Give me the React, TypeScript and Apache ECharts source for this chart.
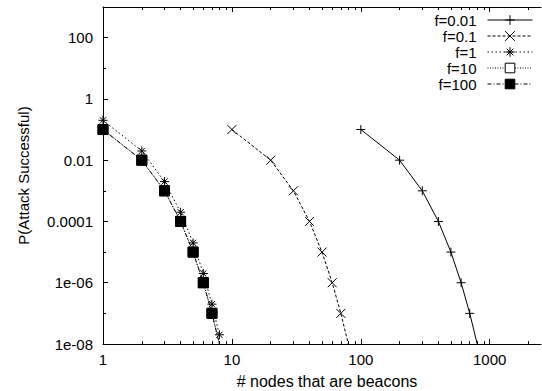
import React, { useEffect, useRef } from 'react';
import * as echarts from 'echarts';

const seriesNames = ['f=0.01', 'f=0.1', 'f=1', 'f=10', 'f=100'];

const xF001 = [100, 200, 300, 400, 500, 600, 700, 800];
const yF001 = [0.1, 0.01, 0.001, 1e-4, 1e-5, 1e-6, 1e-7, 1e-8];
const xF01 = [10, 20, 30, 40, 50, 60, 70, 80];
const yF01 = [0.1, 0.01, 0.001, 1e-4, 1e-5, 1e-6, 1e-7, 1e-8];
const xF1 = [1, 2, 3, 4, 5, 6, 7, 8];
const yF1 = [0.2, 0.02, 0.002, 2e-4, 2e-5, 2e-6, 2e-7, 2e-8];
const xF10 = [1, 2, 3, 4, 5, 6, 7, 8];
const yF10 = [0.1, 0.01, 0.001, 1e-4, 1e-5, 1e-6, 1e-7, 1e-8];
const xF100 = [1, 2, 3, 4, 5, 6, 7, 8];
const yF100 = [0.1, 0.01, 0.001, 1e-4, 1e-5, 1e-6, 1e-7, 1e-8];

const xTicks = [1, 10, 100, 1000];
const xTickLabels = ['1', '10', '100', '1000'];
const xMinorTicks = [2, 3, 4, 5, 6, 7, 8, 9, 20, 30, 40, 50, 60, 70, 80, 90, 200, 300, 400, 500, 600, 700, 800, 900, 2000];
const yTicks = [1e-8, 1e-6, 1e-4, 1e-2, 1, 100];
const yTickLabels = ['1e-08', '1e-06', '0.0001', '0.01', '1', '100'];
const yMinorTicks = [1e-7, 1e-5, 1e-3, 0.1, 10];

const X_MIN = 1;
const X_MAX = 2500;
const Y_MIN = 1e-8;
const Y_MAX = 1000;

const FONT = "'Liberation Sans', Arial, Helvetica, sans-serif";

const pick = (ticks: number[], labels: string[]) => (v: number) => {
  const i = ticks.findIndex((t) => Math.abs(Math.log10(t) - Math.log10(v)) < 1e-6);
  return i >= 0 ? labels[i] : '';
};

const mk = (xs: number[], ys: number[]) =>
  xs.map((x, i) => (ys[i] <= Y_MIN ? { value: [x, ys[i]], symbol: 'none' } : { value: [x, ys[i]] }));

const PLUS = 'path://M0,5L10,5M5,0L5,10';
const CROSS = 'path://M0,0L10,10M10,0L0,10';
const STAR = 'path://M0,5L10,5M5,0L5,10M1.5,1.5L8.5,8.5M8.5,1.5L1.5,8.5';

const majorTickX = (position: 'top' | 'bottom', withLabel: boolean) => ({
  type: 'log',
  logBase: 10,
  min: X_MIN,
  max: X_MAX,
  position,
  axisLine: { show: true, lineStyle: { color: '#000', width: 1 } },
  axisTick: { show: true, inside: true, length: 5, customValues: xTicks, lineStyle: { color: '#000', width: 1 } },
  axisLabel: withLabel
    ? { show: true, customValues: xTicks, formatter: pick(xTicks, xTickLabels), color: '#000', fontSize: 15, fontFamily: FONT, margin: 8 }
    : { show: false },
  splitLine: { show: false },
  minorTick: { show: false },
  ...(withLabel
    ? {
        name: '# nodes that are beacons',
        nameLocation: 'middle',
        nameGap: 29,
        nameTextStyle: { color: '#000', fontSize: 16, fontFamily: FONT, padding: [0, 0, 0, 10] },
      }
    : {}),
});

const minorTickX = (position: 'top' | 'bottom') => ({
  type: 'log',
  logBase: 10,
  min: X_MIN,
  max: X_MAX,
  position,
  axisLine: { show: false },
  axisTick: { show: true, inside: true, length: 3, customValues: xMinorTicks, lineStyle: { color: '#000', width: 1 } },
  axisLabel: { show: false },
  splitLine: { show: false },
});

export default function App() {
  const ref = useRef<HTMLDivElement>(null);
  useEffect(() => {
    const chart = echarts.init(ref.current!, null, { renderer: 'svg' });
    const lineDefs = [
      { x: xF001, y: yF001, symbol: PLUS, size: 9, dash: 'solid', fill: '#000' },
      { x: xF01, y: yF01, symbol: CROSS, size: 9, dash: [3, 2], fill: '#000' },
      { x: xF1, y: yF1, symbol: STAR, size: 9, dash: [1.5, 2.5], fill: '#000' },
      { x: xF10, y: yF10, symbol: 'rect', size: 10, dash: [1, 1.5], fill: '#fff' },
      { x: xF100, y: yF100, symbol: 'rect', size: 10, dash: [4, 2, 1, 2], fill: '#000' },
    ];
    const option: any = {
      animation: false,
      backgroundColor: '#fff',
      textStyle: { fontFamily: FONT },
      grid: { left: 103, top: 7, right: 1, bottom: 47, containLabel: false, outerBoundsMode: 'none' },
      legend: {
        data: seriesNames,
        orient: 'vertical',
        right: 9,
        top: 12,
        padding: 0,
        itemWidth: 45,
        itemHeight: 12,
        itemGap: 0,
        align: 'right',
        selectedMode: false,
        lineStyle: { width: 1 },
        itemStyle: { borderWidth: 1 },
        textStyle: { color: '#000', fontSize: 15, fontFamily: FONT, lineHeight: 16, padding: [0, 6, 0, 0] },
      },
      xAxis: [majorTickX('bottom', true), minorTickX('bottom'), majorTickX('top', false), minorTickX('top')],
      yAxis: [
        {
          type: 'log',
          logBase: 10,
          min: Y_MIN,
          max: Y_MAX,
          position: 'left',
          axisLine: { show: true, lineStyle: { color: '#000', width: 1 } },
          axisTick: { show: true, inside: true, length: 5, customValues: yTicks, lineStyle: { color: '#000', width: 1 } },
          axisLabel: { show: true, customValues: yTicks, formatter: pick(yTicks, yTickLabels), color: '#000', fontSize: 15, fontFamily: FONT, margin: 10 },
          splitLine: { show: false },
          minorTick: { show: false },
          name: 'P(Attack Successful)',
          nameLocation: 'middle',
          nameGap: 72,
          nameRotate: 90,
          nameTextStyle: { color: '#000', fontSize: 15, fontFamily: FONT },
        },
        {
          type: 'log',
          logBase: 10,
          min: Y_MIN,
          max: Y_MAX,
          position: 'left',
          axisLine: { show: false },
          axisTick: { show: true, inside: true, length: 3, customValues: yMinorTicks, lineStyle: { color: '#000', width: 1 } },
          axisLabel: { show: false },
          splitLine: { show: false },
        },
      ],
      series: lineDefs.map((d, i) => ({
        name: seriesNames[i],
        type: 'line',
        xAxisIndex: 0,
        yAxisIndex: 0,
        data: mk(d.x, d.y),
        symbol: d.symbol,
        symbolSize: d.size,
        showSymbol: true,
        clip: true,
        z: 2 + i,
        lineStyle: { color: '#000', width: 1, type: d.dash },
        itemStyle: { color: d.fill, borderColor: '#000', borderWidth: 1 },
        emphasis: { disabled: true },
      })),
    };
    chart.setOption(option);
    return () => chart.dispose();
  }, []);
  return <div ref={ref} style={{ position: 'absolute', left: 0, top: 0, width: 542, height: 391 }} />;
}
